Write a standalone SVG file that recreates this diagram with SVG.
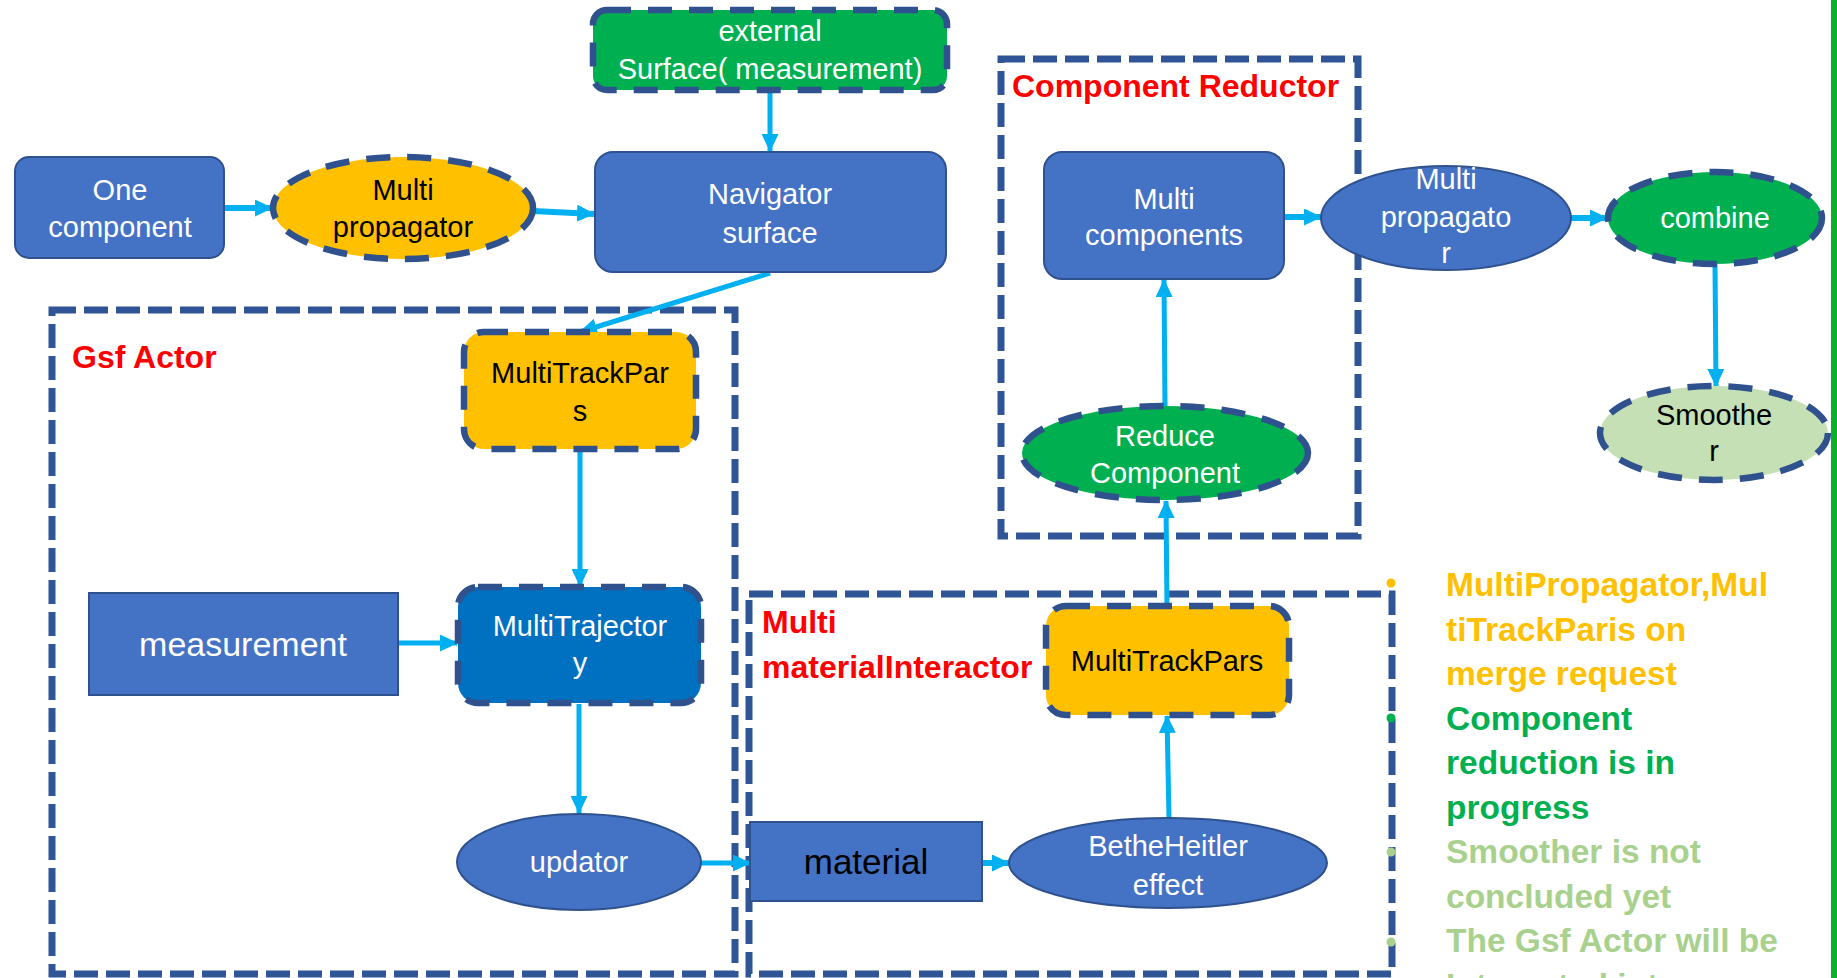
<svg xmlns="http://www.w3.org/2000/svg" width="1837" height="978" viewBox="0 0 1837 978">
  <style>
    .bg { fill: #FFFFFF; }
    .frame { fill: none; stroke: #2F5597; stroke-width: 7; stroke-dasharray: 24 8; }
    .frame-label { font-family: "Liberation Sans", Arial, sans-serif; font-weight: bold; font-size: 32px; fill: #FF0000; }
    .solid { fill: #4472C4; stroke: #2F528F; stroke-width: 2; }
    .dashed { stroke: #2F528F; stroke-width: 6.5; stroke-dasharray: 24 17; }
    .yellow { fill: #FFC000; }
    .green { fill: #00B050; }
    .deep { fill: #0070C0; }
    .pale { fill: #C5E0B4; }
    .t { font-family: "Liberation Sans", Arial, sans-serif; font-size: 29px; text-anchor: middle; }
    .w { fill: #FFFFFF; }
    .k { fill: #000000; }
    .conn line { stroke: #00B0F0; stroke-width: 5; marker-end: url(#head); }
    .note { font-family: "Liberation Sans", Arial, sans-serif; font-weight: bold; font-size: 33.5px; }
  </style>
  <defs>
    <marker id="head" markerUnits="userSpaceOnUse" markerWidth="18" markerHeight="17" refX="17" refY="8.5" orient="auto">
      <path d="M0,0 L18,8.5 L0,17 Z" fill="#00B0F0"/>
    </marker>
  </defs>

  <rect class="bg" x="0" y="0" width="1837" height="978"/>

  <!-- grouping frames -->
  <g id="gsf-actor">
    <rect class="frame" x="52" y="310" width="683" height="664"/>
    <text class="frame-label" x="72" y="368">Gsf Actor</text>
  </g>
  <g id="material-interactor">
    <rect class="frame" x="749" y="594" width="643" height="380"/>
    <text class="frame-label" x="762" y="633">Multi</text>
    <text class="frame-label" x="762" y="678">materialInteractor</text>
  </g>
  <g id="component-reductor">
    <rect class="frame" x="1001" y="59" width="357" height="477"/>
    <text class="frame-label" x="1012" y="97">Component Reductor</text>
  </g>

  <!-- connectors -->
  <g id="connectors" class="conn">
    <line x1="770" y1="91" x2="770" y2="151"/>
    <line x1="224" y1="208" x2="272" y2="208" style="stroke-width:6"/>
    <line x1="533" y1="211" x2="594" y2="214" style="stroke-width:6"/>
    <line x1="770" y1="273" x2="580" y2="332"/>
    <line x1="580" y1="449" x2="580" y2="586"/>
    <line x1="398" y1="643" x2="457" y2="643"/>
    <line x1="579" y1="704" x2="579" y2="813"/>
    <line x1="701" y1="863" x2="750" y2="863"/>
    <line x1="982" y1="863" x2="1009" y2="863" style="stroke-width:6"/>
    <line x1="1169" y1="818" x2="1167" y2="716"/>
    <line x1="1167" y1="606" x2="1166" y2="501"/>
    <line x1="1165" y1="406" x2="1164" y2="280"/>
    <line x1="1284" y1="217" x2="1321" y2="217" style="stroke-width:6"/>
    <line x1="1571" y1="218" x2="1607" y2="218" style="stroke-width:6"/>
    <line x1="1715" y1="264" x2="1716" y2="386"/>
  </g>

  <!-- nodes -->
  <g id="external-surface">
    <rect class="green dashed" x="593" y="10" width="354" height="80" rx="14"/>
    <text class="t w" x="770" y="41">external</text>
    <text class="t w" x="770" y="79">Surface( measurement)</text>
  </g>
  <g id="one-component">
    <rect class="solid" x="15" y="157" width="209" height="101" rx="14"/>
    <text class="t w" x="120" y="200">One</text>
    <text class="t w" x="120" y="237">component</text>
  </g>
  <g id="multi-propagator">
    <ellipse class="yellow dashed" cx="403" cy="208" rx="130" ry="51"/>
    <text class="t k" x="403" y="200">Multi</text>
    <text class="t k" x="403" y="237">propagator</text>
  </g>
  <g id="navigator-surface">
    <rect class="solid" x="595" y="152" width="351" height="120" rx="18"/>
    <text class="t w" x="770" y="204">Navigator</text>
    <text class="t w" x="770" y="243">surface</text>
  </g>
  <g id="multi-track-pars-actor">
    <rect class="yellow dashed" x="464" y="332" width="232" height="117" rx="20"/>
    <text class="t k" x="580" y="383">MultiTrackPar</text>
    <text class="t k" x="580" y="421">s</text>
  </g>
  <g id="multi-trajectory">
    <rect class="deep dashed" x="458" y="587" width="243" height="116" rx="20"/>
    <text class="t w" x="580" y="636">MultiTrajector</text>
    <text class="t w" x="580" y="673">y</text>
  </g>
  <g id="measurement">
    <rect class="solid" x="89" y="593" width="309" height="102"/>
    <text class="t w" x="243" y="656" style="font-size:34px">measurement</text>
  </g>
  <g id="updator">
    <ellipse class="solid" cx="579" cy="862" rx="122" ry="48"/>
    <text class="t w" x="579" y="872">updator</text>
  </g>
  <g id="material">
    <rect class="solid" x="750" y="822" width="232" height="79"/>
    <text class="t k" x="866" y="874" style="font-size:35px">material</text>
  </g>
  <g id="bethe-heitler">
    <ellipse class="solid" cx="1168" cy="863" rx="159" ry="45"/>
    <text class="t w" x="1168" y="856">BetheHeitler</text>
    <text class="t w" x="1168" y="895">effect</text>
  </g>
  <g id="multi-track-pars-material">
    <rect class="yellow dashed" x="1046" y="606" width="243" height="109" rx="20"/>
    <text class="t k" x="1167" y="671">MultiTrackPars</text>
  </g>
  <g id="multi-components">
    <rect class="solid" x="1044" y="152" width="240" height="127" rx="18"/>
    <text class="t w" x="1164" y="209">Multi</text>
    <text class="t w" x="1164" y="245">components</text>
  </g>
  <g id="reduce-component">
    <ellipse class="green dashed" cx="1165" cy="453" rx="143" ry="47"/>
    <text class="t w" x="1165" y="446">Reduce</text>
    <text class="t w" x="1165" y="483">Component</text>
  </g>
  <g id="multi-propagator-out">
    <ellipse class="solid" cx="1446" cy="218" rx="125" ry="52"/>
    <text class="t w" x="1446" y="189">Multi</text>
    <text class="t w" x="1446" y="227">propagato</text>
    <text class="t w" x="1446" y="263">r</text>
  </g>
  <g id="combine">
    <ellipse class="green dashed" cx="1715" cy="218" rx="107" ry="46"/>
    <text class="t w" x="1715" y="228">combine</text>
  </g>
  <g id="smoother">
    <ellipse class="pale dashed" cx="1714" cy="433" rx="114" ry="47"/>
    <text class="t k" x="1714" y="425">Smoothe</text>
    <text class="t k" x="1714" y="461">r</text>
  </g>

  <!-- status notes -->
  <g id="status-notes" class="note">
    <circle cx="1391" cy="583" r="4.5" fill="#FFC000"/>
    <text x="1446" y="596" fill="#FFC000">MultiPropagator,Mul</text>
    <text x="1446" y="641" fill="#FFC000">tiTrackParis on</text>
    <text x="1446" y="685" fill="#FFC000">merge request</text>
    <circle cx="1391" cy="718" r="4.5" fill="#00B050"/>
    <text x="1446" y="730" fill="#00B050">Component</text>
    <text x="1446" y="774" fill="#00B050">reduction is in</text>
    <text x="1446" y="819" fill="#00B050">progress</text>
    <circle cx="1391" cy="852" r="4.5" fill="#A9D18E"/>
    <text x="1446" y="863" fill="#A9D18E">Smoother is not</text>
    <text x="1446" y="908" fill="#A9D18E">concluded yet</text>
    <circle cx="1391" cy="942" r="4.5" fill="#A9D18E"/>
    <text x="1446" y="952" fill="#A9D18E">The Gsf Actor will be</text>
    <text x="1446" y="997" fill="#A9D18E">Integrated into</text>
  </g>

  <!-- right edge rule -->
  <rect x="1831" y="0" width="6" height="978" fill="#0DB02B"/>
</svg>
